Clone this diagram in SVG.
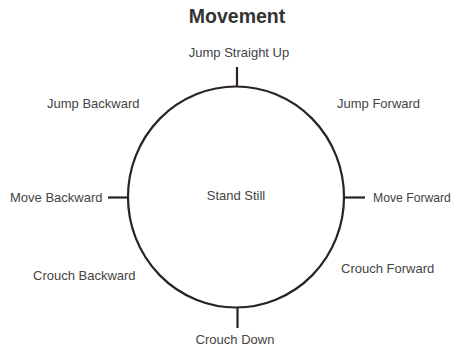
<svg xmlns="http://www.w3.org/2000/svg" width="454" height="346" viewBox="0 0 454 346">
<style>
.lbl{font-family:"Liberation Sans",Arial,sans-serif;font-size:13px;fill:#444}
.title{font-family:"Liberation Sans",Arial,sans-serif;font-size:19.5px;font-weight:bold;fill:#333}
.ln{stroke:#2b2222;stroke-width:2.2;fill:none}
</style>
<rect width="454" height="346" fill="#fff"/>
<text class="title" x="237" y="23" text-anchor="middle">Movement</text>
<g id="circle"><ellipse class="ln" cx="236" cy="197" rx="108" ry="110.5"/></g>
<g id="connectors">
<line class="ln" x1="237" y1="67" x2="237" y2="87"/>
<line class="ln" x1="108" y1="197.5" x2="129" y2="197.5"/>
<line class="ln" x1="343" y1="197.5" x2="365" y2="197.5"/>
<line class="ln" x1="237.5" y1="307" x2="237.5" y2="328"/>
</g>
<g id="jump-up"><text class="lbl" x="239" y="57" text-anchor="middle">Jump Straight Up</text></g>
<g id="jump-back"><text class="lbl" x="47" y="108">Jump Backward</text></g>
<g id="jump-fwd"><text class="lbl" x="337" y="108">Jump Forward</text></g>
<g id="move-back"><text class="lbl" x="10" y="202">Move Backward</text></g>
<g id="stand"><text class="lbl" x="236" y="200" text-anchor="middle">Stand Still</text></g>
<g id="move-fwd"><text class="lbl" x="373" y="202" style="font-size:12.2px">Move Forward</text></g>
<g id="crouch-back"><text class="lbl" x="33" y="280">Crouch Backward</text></g>
<g id="crouch-fwd"><text class="lbl" x="341" y="273">Crouch Forward</text></g>
<g id="crouch-down"><text class="lbl" x="235" y="344" text-anchor="middle">Crouch Down</text></g>
</svg>
